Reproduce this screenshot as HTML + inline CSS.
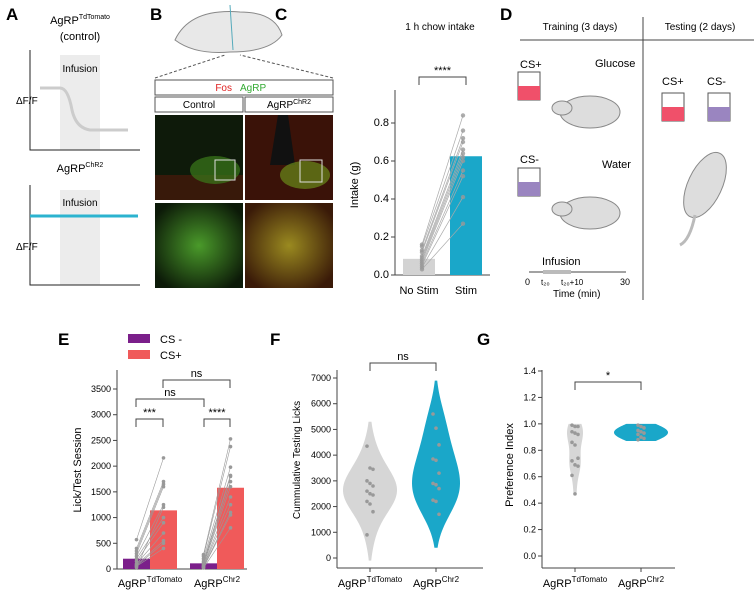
<!DOCTYPE html>
<html><head><meta charset="utf-8"><style>
body{margin:0;background:#fff;}
svg{display:block;font-family:"Liberation Sans",sans-serif;}
</style></head><body>
<svg id="fig" width="754" height="593" viewBox="0 0 754 593" xmlns="http://www.w3.org/2000/svg">
<defs>
<radialGradient id="grn" cx="50%" cy="50%" r="60%"><stop offset="0" stop-color="#4a9a2a"/><stop offset="1" stop-color="#0c1a08"/></radialGradient>
<radialGradient id="org" cx="50%" cy="50%" r="60%"><stop offset="0" stop-color="#9a8a20"/><stop offset="1" stop-color="#3a1a08"/></radialGradient>
</defs>
<g font-weight="bold" font-size="17">
<text x="6" y="20">A</text><text x="150" y="20">B</text><text x="275" y="20">C</text><text x="500" y="20">D</text>
<text x="58" y="345">E</text><text x="270" y="345">F</text><text x="477" y="345">G</text>
</g>
<g font-size="11">
<text x="80" y="24" text-anchor="middle">AgRP<tspan font-size="7" dy="-5">TdTomato</tspan></text>
<text x="80" y="40" text-anchor="middle">(control)</text>
<rect x="60" y="55" width="40" height="95" fill="#ececec"/>
<text x="80" y="72" text-anchor="middle" font-size="10">Infusion</text>
<path d="M30 50V150H140" fill="none" stroke="#222" stroke-width="1"/>
<path d="M40 88H60Q68 88 72 110Q76 128 90 130H128" fill="none" stroke="#ccc" stroke-width="3"/>
<text x="16" y="104" font-size="10">ΔF/F</text>
<text x="80" y="172" text-anchor="middle">AgRP<tspan font-size="7" dy="-5">ChR2</tspan></text>
<rect x="60" y="190" width="40" height="95" fill="#ececec"/>
<text x="80" y="206" text-anchor="middle" font-size="10">Infusion</text>
<path d="M30 185V285H140" fill="none" stroke="#222" stroke-width="1"/>
<line x1="30" y1="216" x2="138" y2="216" stroke="#2bb3cf" stroke-width="3"/>
<text x="16" y="250" font-size="10">ΔF/F</text>
</g>
<g font-size="10">
<path d="M175 40Q190 8 240 12Q275 12 282 35Q270 52 230 52Q195 55 175 40Z" fill="#e8e8e8" stroke="#888"/>
<line x1="230" y1="5" x2="233" y2="50" stroke="#5ab" />
<path d="M155 78L225 55M333 78L240 55" stroke="#555" stroke-dasharray="3,2"/>
<rect x="155" y="80" width="178" height="15" fill="#fff" stroke="#555"/>
<text x="232" y="91" text-anchor="end" fill="#e02020">Fos</text><text x="240" y="91" fill="#3a3">AgRP</text>
<rect x="155" y="97" width="88" height="15" fill="#fff" stroke="#555"/>
<text x="199" y="108" text-anchor="middle">Control</text>
<rect x="245" y="97" width="88" height="15" fill="#fff" stroke="#555"/>
<text x="289" y="108" text-anchor="middle">AgRP<tspan font-size="7" dy="-4">ChR2</tspan></text>
<rect x="155" y="115" width="88" height="85" fill="#0e1a0a"/>
<rect x="155" y="175" width="88" height="25" fill="#4a1a0a" opacity="0.7"/>
<ellipse cx="215" cy="170" rx="25" ry="14" fill="#3a7a1a" opacity="0.7"/>
<rect x="215" y="160" width="20" height="20" fill="none" stroke="#ddd"/>
<rect x="245" y="115" width="88" height="85" fill="#3a1208"/>
<path d="M278 115L288 115L295 165L270 165Z" fill="#111"/>
<ellipse cx="305" cy="175" rx="25" ry="14" fill="#6a8a1a" opacity="0.7"/>
<rect x="300" y="160" width="22" height="22" fill="none" stroke="#ddd"/>
<rect x="155" y="203" width="88" height="85" fill="url(#grn)"/>
<rect x="245" y="203" width="88" height="85" fill="url(#org)"/>
</g>
<g id="panelC" font-size="11">
<text x="440" y="30" text-anchor="middle" font-size="10">1 h chow intake</text>
</g>
<g font-size="11">
<text x="580" y="30" text-anchor="middle" font-size="10">Training (3 days)</text>
<text x="700" y="30" text-anchor="middle" font-size="10">Testing (2 days)</text>
<line x1="520" y1="40" x2="754" y2="40" stroke="#444"/>
<line x1="643" y1="17" x2="643" y2="300" stroke="#444"/>
<text x="520" y="68">CS+</text>
<rect x="518" y="72" width="22" height="28" fill="#fff" stroke="#555"/><rect x="518" y="86" width="22" height="14" fill="#f0506a"/>
<text x="595" y="67">Glucose</text>
<ellipse cx="590" cy="112" rx="30" ry="16" fill="#ddd" stroke="#888"/><ellipse cx="562" cy="108" rx="10" ry="7" fill="#ddd" stroke="#888"/>
<text x="520" y="163">CS-</text>
<rect x="518" y="168" width="22" height="28" fill="#fff" stroke="#555"/><rect x="518" y="182" width="22" height="14" fill="#9a85c0"/>
<text x="602" y="168">Water</text>
<ellipse cx="590" cy="213" rx="30" ry="16" fill="#ddd" stroke="#888"/><ellipse cx="562" cy="209" rx="10" ry="7" fill="#ddd" stroke="#888"/>
<text x="542" y="265">Infusion</text>
<line x1="529" y1="272" x2="626" y2="272" stroke="#444"/><rect x="543" y="270" width="28" height="4" fill="#bbb"/>
<text x="525" y="285" font-size="9">0</text><text x="541" y="285" font-size="8">t₂₀</text><text x="561" y="285" font-size="8">t₂₀+10</text><text x="620" y="285" font-size="9">30</text>
<text x="553" y="297" font-size="10">Time (min)</text>
<text x="662" y="85">CS+</text><text x="707" y="85">CS-</text>
<rect x="662" y="93" width="22" height="28" fill="#fff" stroke="#555"/><rect x="662" y="107" width="22" height="14" fill="#f0506a"/>
<rect x="708" y="93" width="22" height="28" fill="#fff" stroke="#555"/><rect x="708" y="107" width="22" height="14" fill="#9a85c0"/>
<ellipse cx="705" cy="185" rx="17" ry="35" fill="#ddd" stroke="#888" transform="rotate(25 705 185)"/>
<path d="M695 215Q690 240 680 245" fill="none" stroke="#bbb" stroke-width="3"/>
</g>
<g font-size="11">
<rect x="128" y="334" width="22" height="9" fill="#7b1f8a"/><text x="160" y="343">CS -</text>
<rect x="128" y="350" width="22" height="9" fill="#f05a5a"/><text x="160" y="359">CS+</text>
</g>
<g id="panelE"></g>
<g id="panelF"></g>
<g id="panelG"></g>
</svg>
<script>
const cCats=["No Stim","Stim"];
const cMeans=[0.085,0.625];
const cNoStim=[0.16,0.15,0.13,0.12,0.10,0.09,0.08,0.07,0.06,0.05,0.04,0.03];
const cStim=[0.84,0.76,0.72,0.70,0.66,0.64,0.62,0.60,0.55,0.52,0.41,0.27];
const cTicks=[0.0,0.2,0.4,0.6,0.8];
const eGroups=["TdTomato","Chr2"];
const eCSminus=[200,110];
const eCSplus=[1140,1580];
const eTdMinus=[570,400,350,300,250,200,150,100,80,60,50,30];
const eTdPlus=[2160,1700,1650,1600,1250,1000,900,700,550,500,400,1200];
const eChMinus=[280,250,200,150,120,100,80,60,50,40,30,20];
const eChPlus=[2530,2380,1980,1820,1800,1700,1600,1400,1250,1100,1050,800];
const eTicks=[0,500,1000,1500,2000,2500,3000,3500];
const fTd=[4350,3500,3450,3000,2900,2800,2600,2500,2450,2200,2100,1800,900];
const fCh=[5600,5050,4400,3850,3800,3300,2900,2850,2700,2250,2200,1700];
const fTicks=[0,1000,2000,3000,4000,5000,6000,7000];
const gTd=[0.99,0.98,0.98,0.94,0.93,0.92,0.86,0.84,0.74,0.72,0.69,0.68,0.61,0.47];
const gCh=[0.99,0.98,0.97,0.95,0.94,0.93,0.92,0.90,0.89,0.88];
const gTicks=[0.0,0.2,0.4,0.6,0.8,1.0,1.2,1.4];

const NS="http://www.w3.org/2000/svg";
function mk(parent,tag,attrs,text){const e=document.createElementNS(NS,tag);for(const k in attrs)e.setAttribute(k,attrs[k]);if(text!==undefined)e.textContent=text;parent.appendChild(e);return e;}
function yAxis(g,x,ticks,ys,fmt,top,bottom){
  const ax=mk(g,'line',{x1:x,y1:top,x2:x,y2:bottom,stroke:'#444'});
  
  
  ticks.forEach(t=>{mk(g,'line',{x1:x-4,y1:ys(t),x2:x,y2:ys(t),stroke:'#444'});
    const tl=mk(g,'text',{x:x-6,y:ys(t)+3,'text-anchor':'end','font-size':fmt.size},fmt.f(t));
    
    });
}
function bracket(g,x1,x2,y,label){mk(g,'path',{d:`M${x1} ${y+8}V${y}H${x2}V${y+8}`,fill:'none',stroke:'#444'});
  const t=mk(g,'text',{x:(x1+x2)/2,y:y-3,'text-anchor':'middle','font-size':11},label);
  
  }
function agrp(g,x,y,sup){const t=mk(g,'text',{x:x,y:y,'text-anchor':'middle','font-size':11});t.innerHTML='AgRP<tspan font-size="8" dy="-5">'+sup+'</tspan>';
  
  }

(function(){const g=document.getElementById('panelC');
 const ys=v=>275-v*190;const x0=395;
 yAxis(g,x0,cTicks,ys,{size:11,f:t=>t.toFixed(1)},90,275);
 mk(g,'line',{x1:x0,y1:275,x2:490,y2:275,stroke:'#444'});
 const cx=[419,466],w=32,cols=['#d3d3d3','#1aa7c9'];
 cMeans.forEach((m,i)=>{const b=mk(g,'rect',{x:cx[i]-w/2,y:ys(m),width:w,height:275-ys(m),fill:cols[i]});
  
  
  const l=mk(g,'text',{x:cx[i],y:294,'text-anchor':'middle','font-size':11},cCats[i]);
  
  });
 cNoStim.forEach((v,i)=>{mk(g,'line',{x1:cx[0]+3,y1:ys(v),x2:cx[1]-3,y2:ys(cStim[i]),stroke:'#aaa','stroke-width':0.7});
  mk(g,'circle',{cx:cx[0]+3,cy:ys(v),r:2.2,fill:'#999',opacity:0.8});mk(g,'circle',{cx:cx[1]-3,cy:ys(cStim[i]),r:2.2,fill:'#999',opacity:0.8});});
 const yl=mk(g,'text',{x:0,y:0,transform:`translate(358,185) rotate(-90)`,'text-anchor':'middle','font-size':11},'Intake (g)');
 
 
 bracket(g,419,466,77,'****');
})();

(function(){const g=document.getElementById('panelE');
 const ys=v=>569-v*180/3500;const x0=117;
 yAxis(g,x0,eTicks,ys,{size:9,f:t=>String(t)},370,569);
 mk(g,'line',{x1:x0,y1:569,x2:247,y2:569,stroke:'#444'});
 const gc=[150,217],w=27;
 const pts=[[eTdMinus,eTdPlus],[eChMinus,eChPlus]];
 eGroups.forEach((gn,i)=>{
  const b1=mk(g,'rect',{x:gc[i]-w,y:ys(eCSminus[i]),width:w,height:569-ys(eCSminus[i]),fill:'#7b1f8a'});
  
  
  const b2=mk(g,'rect',{x:gc[i],y:ys(eCSplus[i]),width:w,height:569-ys(eCSplus[i]),fill:'#f05a5a'});
  
  
  pts[i][0].forEach((v,j)=>{const a=gc[i]-w/2,b=gc[i]+w/2;
   mk(g,'line',{x1:a,y1:ys(v),x2:b,y2:ys(pts[i][1][j]),stroke:'#999','stroke-width':0.6});
   mk(g,'circle',{cx:a,cy:ys(v),r:1.8,fill:'#999'});mk(g,'circle',{cx:b,cy:ys(pts[i][1][j]),r:1.8,fill:'#999'});});
  agrp(g,gc[i],587,gn);
 });
 const yl=mk(g,'text',{x:0,y:0,transform:`translate(81,470) rotate(-90)`,'text-anchor':'middle','font-size':11},'Lick/Test Session');
 
 
 bracket(g,136,163,419,'***');bracket(g,204,230,419,'****');
 bracket(g,136,204,399,'ns');bracket(g,163,230,380,'ns');
})();

function kdeViolin(g,vals,cx,ys,bw,halfW,lo,hi,fill){
 const n=60;let mx=0;const dens=[];
 for(let k=0;k<=n;k++){const y=lo+(hi-lo)*k/n;let d=0;vals.forEach(v=>{d+=Math.exp(-0.5*((y-v)/bw)**2);});dens.push([y,d]);mx=Math.max(mx,d);}
 const L=dens.map(([y,d])=>`${cx-d/mx*halfW},${ys(y)}`),R=dens.slice().reverse().map(([y,d])=>`${cx+d/mx*halfW},${ys(y)}`);
 return mk(g,'polygon',{points:L.concat(R).join(' '),fill:fill});}

(function(){const g=document.getElementById('panelF');
 const ys=v=>558-v*180/7000;const x0=337;
 yAxis(g,x0,fTicks,ys,{size:9,f:t=>String(t)},370,568);
 mk(g,'line',{x1:x0,y1:568,x2:483,y2:568,stroke:'#444'});
 const cx=[370,436];
 const v1=kdeViolin(g,fTd,cx[0],ys,700,27,-100,5300,'#d6d6d6');
 
 
 const v2=kdeViolin(g,fCh,cx[1],ys,800,24,400,6900,'#1aa7c9');
 
 
 [fTd,fCh].forEach((arr,i)=>arr.forEach((v,j)=>mk(g,'circle',{cx:cx[i]+((j%3)-1)*3,cy:ys(v),r:1.8,fill:'#999'})));
 cx.forEach(c=>mk(g,'line',{x1:c,y1:568,x2:c,y2:572,stroke:'#444'}));
 agrp(g,cx[0],587,'TdTomato');agrp(g,cx[1],587,'Chr2');
 const yl=mk(g,'text',{x:0,y:0,transform:`translate(300,460) rotate(-90)`,'text-anchor':'middle','font-size':10},'Cummulative Testing Licks');
 
 
 bracket(g,370,436,363,'ns');
})();

(function(){const g=document.getElementById('panelG');
 const ys=v=>556-v*185/1.4;const x0=542;
 yAxis(g,x0,gTicks,ys,{size:9,f:t=>t.toFixed(1)},370,568);
 mk(g,'line',{x1:x0,y1:568,x2:675,y2:568,stroke:'#444'});
 const cx=[575,641];
 const v1=kdeViolin(g,gTd,cx[0],ys,0.08,8,0.46,1.0,'#d6d6d6');
 
 
 const v2=kdeViolin(g,gCh,cx[1],ys,0.04,27,0.87,1.0,'#1aa7c9');
 
 
 [gTd,gCh].forEach((arr,i)=>arr.forEach((v,j)=>mk(g,'circle',{cx:cx[i]+((j%3)-1)*3,cy:ys(v),r:1.8,fill:'#999'})));
 cx.forEach(c=>mk(g,'line',{x1:c,y1:568,x2:c,y2:572,stroke:'#444'}));
 agrp(g,cx[0],587,'TdTomato');agrp(g,cx[1],587,'Chr2');
 const yl=mk(g,'text',{x:0,y:0,transform:`translate(513,465) rotate(-90)`,'text-anchor':'middle','font-size':11},'Preference Index');
 
 
 bracket(g,575,641,382,'*');
})();
</script>
</body></html>
